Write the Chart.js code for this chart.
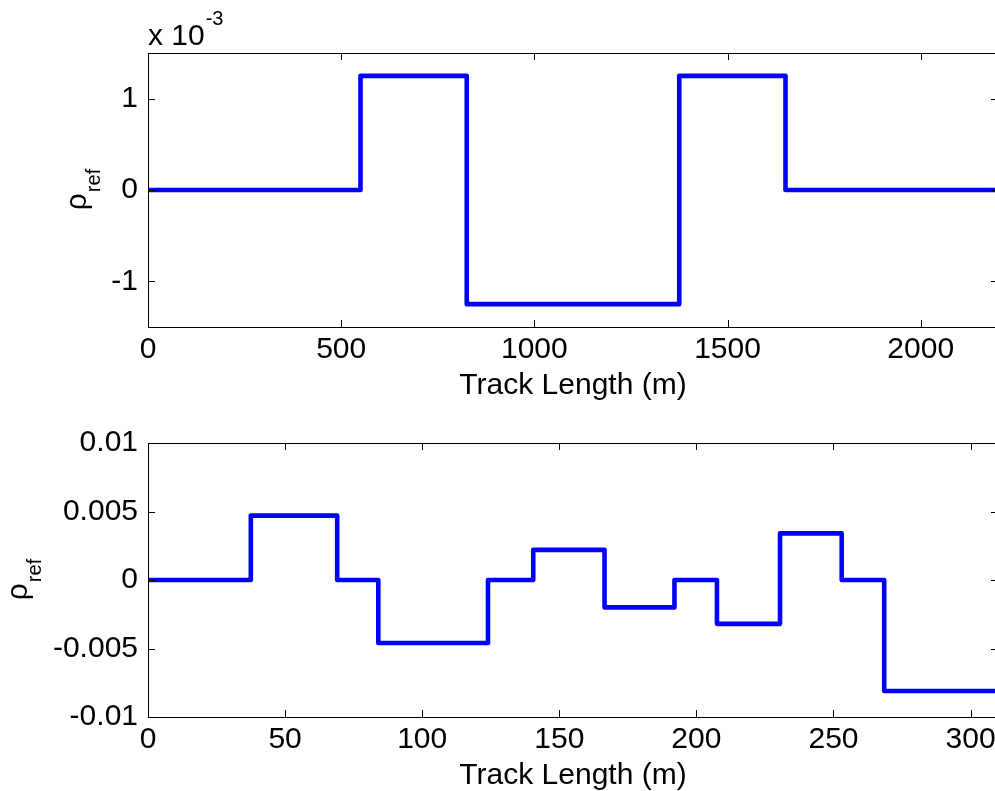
<!DOCTYPE html>
<html>
<head>
<meta charset="utf-8">
<script src="https://cdn.jsdelivr.net/npm/chart.js@4"></script>
<style>
  html,body{margin:0;padding:0;background:#fff;overflow:hidden;width:995px;height:791px}
  .pane{position:absolute;left:0}
</style>
</head>
<body>
<!-- el eje derecho queda justo fuera de la ventana, como en la figura original -->
<div class="pane" style="top:0"><canvas id="c-top" width="998" height="400"></canvas></div>
<div class="pane" style="top:400px"><canvas id="c-bot" width="998" height="391"></canvas></div>
<script>
// ── datos (tramos escalonados: cada valor vale desde su x hasta el siguiente) ──
const topX   = [0, 550, 825, 1375, 1650, 2200];
const topRho = [0, 1.25e-3, -1.25e-3, 1.25e-3, 0, 0];
const topXTicks = [0, 500, 1000, 1500, 2000];
const topXLabels = ['0', '500', '1000', '1500', '2000'];
const topYTicks = [-1e-3, 0, 1e-3];
const topYLabels = ['-1', '0', '1'];

const botX   = [0, 37.5, 69, 84, 124, 140.5, 166.5, 192, 207.5, 230.5, 253, 268.5, 310];
const botRho = [0, 0.0047, 0, -0.0046, 0, 0.0022, -0.002, 0, -0.0032, 0.0034, 0, -0.0081, -0.0081];
const botXTicks = [0, 50, 100, 150, 200, 250, 300];
const botXLabels = ['0', '50', '100', '150', '200', '250', '300'];
const botYTicks = [-0.01, -0.005, 0, 0.005, 0.01];
const botYLabels = ['-0.01', '-0.005', '0', '0.005', '0.01'];

const FONT = "'Liberation Sans', Arial, Helvetica, sans-serif";

// caja + ticks hacia dentro (estilo MATLAB)
const boxPlugin = {
  id: 'box',
  afterDraw(chart, args, o) {
    const {ctx, chartArea: a, scales: {x, y}} = chart;
    const L = 7;
    ctx.save();
    ctx.strokeStyle = '#000'; ctx.lineWidth = 1;
    ctx.beginPath();
    x.ticks.forEach(t => {
      const px = Math.round(x.getPixelForValue(t.value)) + .5;
      ctx.moveTo(px, a.bottom); ctx.lineTo(px, a.bottom - L);
      ctx.moveTo(px, a.top); ctx.lineTo(px, a.top + L);
    });
    y.ticks.forEach(t => {
      const py = Math.round(y.getPixelForValue(t.value)) + .5;
      ctx.moveTo(a.left, py); ctx.lineTo(a.left + L, py);
      ctx.moveTo(a.right, py); ctx.lineTo(a.right - L, py);
    });
    ctx.stroke();
    ctx.strokeRect(Math.round(a.left) + .5, Math.round(a.top) + .5, Math.round(a.right - a.left), Math.round(a.bottom - a.top));

    // titulos
    ctx.fillStyle = '#000';
    ctx.textBaseline = 'alphabetic';
    ctx.textAlign = 'center';
    ctx.font = '30px ' + FONT;
    ctx.fillText('Track Length (m)', (a.left + a.right) / 2, o.xTitleY);

    // rho_ref girado
    ctx.save();
    ctx.translate(o.rhoX, (a.top + a.bottom) / 2);
    ctx.rotate(-Math.PI / 2);
    ctx.textAlign = 'left';
    ctx.font = '30px ' + FONT;
    const wr = ctx.measureText('ρ').width;
    ctx.font = '20px ' + FONT;
    const ws = ctx.measureText('ref').width;
    const x0 = -(wr + ws) / 2;
    ctx.font = '30px ' + FONT;
    ctx.fillText('ρ', x0, 0);
    ctx.font = '20px ' + FONT;
    ctx.fillText('ref', x0 + wr + 1, 14);
    ctx.restore();

    if (o.exp) {
      ctx.textAlign = 'left';
      ctx.font = '30px ' + FONT;
      ctx.fillText('x 10', a.left, 45);
      const w = ctx.measureText('x 10').width;
      ctx.font = '20px ' + FONT;
      ctx.fillText(o.exp, a.left + w + 1, 25);
    }
    ctx.restore();
  }
};

function mkChart(id, xs, ys, xMax, yLim, xTicks, xLabels, yTicks, yLabels, padTop, xAxisH, labelOpts) {
  return new Chart(document.getElementById(id), {
    type: 'line',
    data: {
      datasets: [{
        data: xs.map((v, i) => ({x: v, y: ys[i]})),
        stepped: 'before',
        borderColor: '#0000FF',
        borderWidth: 4.6,
        borderJoinStyle: 'round',
        borderCapStyle: 'round',
        pointRadius: 0,
        fill: false
      }]
    },
    options: {
      responsive: false,
      animation: false,
      events: [],
      layout: {padding: {top: padTop, left: 0, right: 0, bottom: 0}},
      plugins: {legend: {display: false}, tooltip: {enabled: false}, box: labelOpts},
      scales: {
        x: {
          type: 'linear', min: 0, max: xMax,
          afterBuildTicks: s => { s.ticks = xTicks.map(v => ({value: v})); },
          afterFit: s => { s.height = xAxisH; s.paddingLeft = 0; s.paddingRight = 0; },
          grid: {display: false, drawTicks: false},
          border: {display: false},
          ticks: {autoSkip: false, maxRotation: 0, padding: 5, color: '#000', font: {family: FONT, size: 30}, callback: (v, i) => xLabels[i]}
        },
        y: {
          type: 'linear', min: -yLim, max: yLim,
          afterBuildTicks: s => { s.ticks = yTicks.map(v => ({value: v})); },
          afterFit: s => { s.width = 148; s.paddingTop = 0; s.paddingBottom = 0; },
          grid: {display: false, drawTicks: false},
          border: {display: false},
          ticks: {padding: 10, color: '#000', font: {family: FONT, size: 30}, callback: (v, i) => yLabels[i]}
        }
      }
    },
    plugins: [boxPlugin]
  });
}

mkChart('c-top', topX, topRho, 2200, 1.5e-3, topXTicks, topXLabels, topYTicks, topYLabels, 53, 73,
  {xTitleY: 394, rhoX: 86, exp: '-3'});
mkChart('c-bot', botX, botRho, 310, 0.01, botXTicks, botXLabels, botYTicks, botYLabels, 43, 74,
  {xTitleY: 384, rhoX: 27, exp: null});
</script>
</body>
</html>
